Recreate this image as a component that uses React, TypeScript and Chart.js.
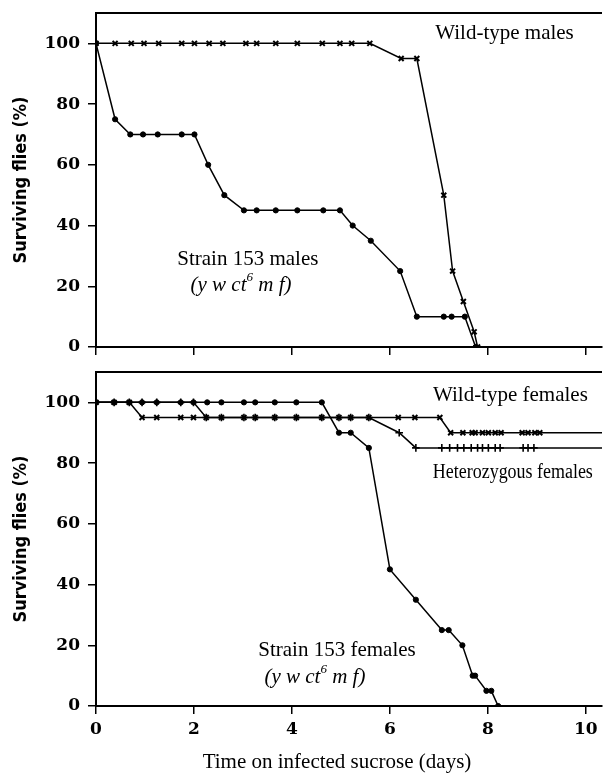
import React, { useEffect, useRef } from 'react';
import { Chart, registerables } from 'chart.js';
Chart.register(...registerables);

// ---------- axis ticks ----------
const X_TICKS = [0, 2, 4, 6, 8, 10];
const Y_TICKS = [0, 20, 40, 60, 80, 100];
const X_MAX = 10.33;
const Y_MAX = 110;

// ---------- top panel: males ----------
const wtMaleDays = [0, 0.39, 0.72, 0.98, 1.28, 1.75, 2.01, 2.31, 2.59, 3.06, 3.28, 3.67, 4.11, 4.62, 4.98, 5.22, 5.59, 6.23, 6.55, 7.1, 7.28, 7.5, 7.72, 7.79];
const wtMaleSurv = [100, 100, 100, 100, 100, 100, 100, 100, 100, 100, 100, 100, 100, 100, 100, 100, 100, 95, 95, 50, 25, 15, 5, 0];

const s153MaleDays = [0, 0.39, 0.7, 0.96, 1.26, 1.75, 2.01, 2.29, 2.62, 3.02, 3.28, 3.67, 4.11, 4.64, 4.98, 5.24, 5.61, 6.21, 6.55, 7.1, 7.26, 7.53, 7.75];
const s153MaleSurv = [100, 75, 70, 70, 70, 70, 70, 60, 50, 45, 45, 45, 45, 45, 45, 40, 35, 25, 10, 10, 10, 10, 0];

// ---------- bottom panel: females ----------
const wtFemaleDays = [0, 0.37, 0.68, 0.94, 1.24, 1.73, 1.99, 2.25, 2.56, 3.02, 3.25, 3.65, 4.09, 4.61, 4.96, 5.2, 5.57, 6.17, 6.51, 7.02, 7.24, 7.49, 7.68, 7.74, 7.89, 8.01, 8.15, 8.27, 8.7, 8.82, 8.96, 9.06, 10.6];
const wtFemaleSurv = [100, 100, 100, 95, 95, 95, 95, 95, 95, 95, 95, 95, 95, 95, 95, 95, 95, 95, 95, 95, 90, 90, 90, 90, 90, 90, 90, 90, 90, 90, 90, 90, 90];

const hetFemaleDays = [0, 0.37, 0.68, 0.94, 1.24, 1.73, 1.99, 2.25, 2.56, 3.02, 3.25, 3.65, 4.09, 4.61, 4.96, 5.2, 5.57, 6.19, 6.53, 7.06, 7.22, 7.38, 7.51, 7.66, 7.79, 7.89, 8.01, 8.15, 8.25, 8.72, 8.82, 8.94, 10.6];
const hetFemaleSurv = [100, 100, 100, 100, 100, 100, 100, 95, 95, 95, 95, 95, 95, 95, 95, 95, 95, 90, 85, 85, 85, 85, 85, 85, 85, 85, 85, 85, 85, 85, 85, 85, 85];

const s153FemaleDays = [0, 0.37, 0.68, 0.94, 1.24, 1.73, 1.99, 2.27, 2.56, 3.02, 3.25, 3.65, 4.09, 4.61, 4.96, 5.2, 5.57, 6.0, 6.53, 7.06, 7.2, 7.48, 7.69, 7.74, 7.97, 8.07, 8.21];
const s153FemaleSurv = [100, 100, 100, 100, 100, 100, 100, 100, 100, 100, 100, 100, 100, 100, 90, 90, 85, 45, 35, 25, 25, 20, 10, 10, 5, 5, 0];

// ---------- texts ----------
const Y_TITLE = 'Surviving flies (%)';
const X_TITLE = 'Time on infected sucrose (days)';

type Part = { t: string; sup?: boolean };
type Label = { parts: Part[]; x: number; y: number; italic?: boolean; size?: number; maxWidth?: number };

const GENOTYPE: Part[] = [{ t: '(y w ct' }, { t: '6', sup: true }, { t: ' m f)' }];

const topLabels: Label[] = [
  { parts: [{ t: 'Wild-type males' }], x: 8.34, y: 103.3 },
  { parts: [{ t: 'Strain 153 males' }], x: 3.1, y: 28.9 },
  { parts: GENOTYPE, italic: true, x: 2.96, y: 20.4 },
];
const bottomLabels: Label[] = [
  { parts: [{ t: 'Wild-type females' }], x: 8.46, y: 102.3 },
  { parts: [{ t: 'Heterozygous females' }], x: 8.51, y: 77, size: 20.5, maxWidth: 160 },
  { parts: [{ t: 'Strain 153 females' }], x: 4.92, y: 18.4 },
  { parts: GENOTYPE, italic: true, x: 4.47, y: 9.5 },
];

const SERIF = '"Liberation Serif", "Times New Roman", serif';
const TEXT_SIZE = 21;

function toPoints(xs: number[], ys: number[]) {
  return xs.map((x, i) => ({ x, y: ys[i] }));
}

function drawLabel(ctx: CanvasRenderingContext2D, l: Label, cx: number, cy: number) {
  const size = l.size || TEXT_SIZE;
  const fontFor = (p: Part) =>
    `${l.italic ? 'italic ' : ''}${p.sup ? Math.round(size * 0.62) : size}px ${SERIF}`;
  let total = 0;
  const widths = l.parts.map((p) => {
    ctx.font = fontFor(p);
    const w = ctx.measureText(p.t).width;
    total += w;
    return w;
  });
  const sx = l.maxWidth && l.maxWidth < total ? l.maxWidth / total : 1;
  ctx.save();
  ctx.translate(cx, cy);
  ctx.scale(sx, 1);
  ctx.fillStyle = '#000';
  ctx.textBaseline = 'middle';
  ctx.textAlign = 'left';
  let x = -total / 2;
  l.parts.forEach((p, i) => {
    ctx.font = fontFor(p);
    ctx.fillText(p.t, x, p.sup ? -size * 0.38 : 0);
    x += widths[i];
  });
  ctx.restore();
}

const framePlugin = {
  id: 'framePlugin',
  afterDraw(chart: any, _args: any, opts: any) {
    const { ctx, chartArea, scales } = chart;
    ctx.save();
    ctx.strokeStyle = '#000';
    ctx.lineWidth = 2;
    ctx.beginPath();
    ctx.moveTo(chartArea.left - 1, chartArea.top);
    ctx.lineTo(chartArea.right, chartArea.top);
    ctx.stroke();
    ctx.restore();
    (opts.labels || []).forEach((l: Label) => {
      drawLabel(ctx, l, scales.x.getPixelForValue(l.x), scales.y.getPixelForValue(l.y));
    });
    if (opts.xTitle) {
      ctx.save();
      ctx.font = `${TEXT_SIZE}px ${SERIF}`;
      ctx.fillStyle = '#000';
      ctx.textAlign = 'center';
      ctx.textBaseline = 'middle';
      ctx.fillText(opts.xTitle, opts.xTitleX, opts.xTitleY);
      ctx.restore();
    }
  },
};

function lineDs(label: string, xs: number[], ys: number[], style: string, radius: number, bw: number) {
  return {
    label,
    data: toPoints(xs, ys),
    borderColor: '#000',
    backgroundColor: '#000',
    borderWidth: 1.5,
    pointStyle: style,
    pointRadius: xs.map((x) => (x > X_MAX ? 0 : radius)),
    pointBorderWidth: bw,
    pointBorderColor: '#000',
    pointBackgroundColor: '#000',
    tension: 0,
  };
}

function zeroPad(s: any) {
  s.paddingTop = 0;
  s.paddingBottom = 0;
  s.paddingLeft = 0;
  s.paddingRight = 0;
}

function makeConfig(panel: 'top' | 'bottom') {
  const isTop = panel === 'top';
  const datasets = isTop
    ? [
        lineDs('Wild-type males', wtMaleDays, wtMaleSurv, 'crossRot', 3.5, 2),
        lineDs('Strain 153 males', s153MaleDays, s153MaleSurv, 'circle', 2.6, 1),
      ]
    : [
        lineDs('Wild-type females', wtFemaleDays, wtFemaleSurv, 'crossRot', 3.5, 2),
        lineDs('Heterozygous females', hetFemaleDays, hetFemaleSurv, 'cross', 3.8, 1.6),
        lineDs('Strain 153 females', s153FemaleDays, s153FemaleSurv, 'circle', 2.6, 1),
      ];
  const tickFont = { family: '"DejaVu Serif", serif', size: 17, weight: 'bold' as const };
  return {
    type: 'line' as const,
    data: { datasets },
    plugins: [framePlugin],
    options: {
      animation: false as const,
      responsive: false,
      maintainAspectRatio: false,
      layout: { padding: { top: isTop ? 13 : 12, right: 0, left: 0, bottom: 0 } },
      plugins: {
        legend: { display: false },
        tooltip: { enabled: false },
        framePlugin: {
          labels: isTop ? topLabels : bottomLabels,
          xTitle: isTop ? null : X_TITLE,
          xTitleX: 337,
          xTitleY: 402,
        },
      },
      scales: {
        x: {
          type: 'linear' as const,
          min: 0,
          max: X_MAX,
          afterBuildTicks: (s: any) => {
            s.ticks = X_TICKS.map((v) => ({ value: v }));
          },
          afterFit: (s: any) => {
            s.height = isTop ? 13 : 69;
            zeroPad(s);
          },
          ticks: { display: !isTop, font: tickFont, color: '#000', padding: 5, maxRotation: 0 },
          grid: { drawOnChartArea: false, drawTicks: true, tickLength: 8, color: '#000', lineWidth: 1.5 },
          border: { display: true, color: '#000', width: 2 },
        },
        y: {
          type: 'linear' as const,
          min: 0,
          max: Y_MAX,
          afterBuildTicks: (s: any) => {
            s.ticks = Y_TICKS.map((v) => ({ value: v }));
          },
          afterFit: (s: any) => {
            s.width = 96;
            zeroPad(s);
          },
          ticks: { font: tickFont, color: '#000', padding: 8 },
          grid: { drawOnChartArea: false, drawTicks: true, tickLength: 8, color: '#000', lineWidth: 1.5 },
          border: { display: true, color: '#000', width: 2 },
          title: {
            display: true,
            text: Y_TITLE,
            color: '#000',
            font: { family: '"DejaVu Sans Condensed", "DejaVu Sans", sans-serif', size: 18, weight: 'bold' as const },
            padding: { top: 11, bottom: 0 },
          },
        },
      },
    },
  };
}

function Panel({ panel, height }: { panel: 'top' | 'bottom'; height: number }) {
  const ref = useRef<HTMLCanvasElement>(null);
  useEffect(() => {
    if (!ref.current) return;
    const chart = new Chart(ref.current, makeConfig(panel) as any);
    return () => chart.destroy();
  }, [panel]);
  return <canvas ref={ref} width={608} height={height} style={{ display: 'block', width: 608, height }} />;
}

export default function App() {
  return (
    <div style={{ position: 'absolute', left: 0, top: 0, width: 608, height: 775, background: '#fff' }}>
      <Panel panel="top" height={360} />
      <Panel panel="bottom" height={415} />
    </div>
  );
}
